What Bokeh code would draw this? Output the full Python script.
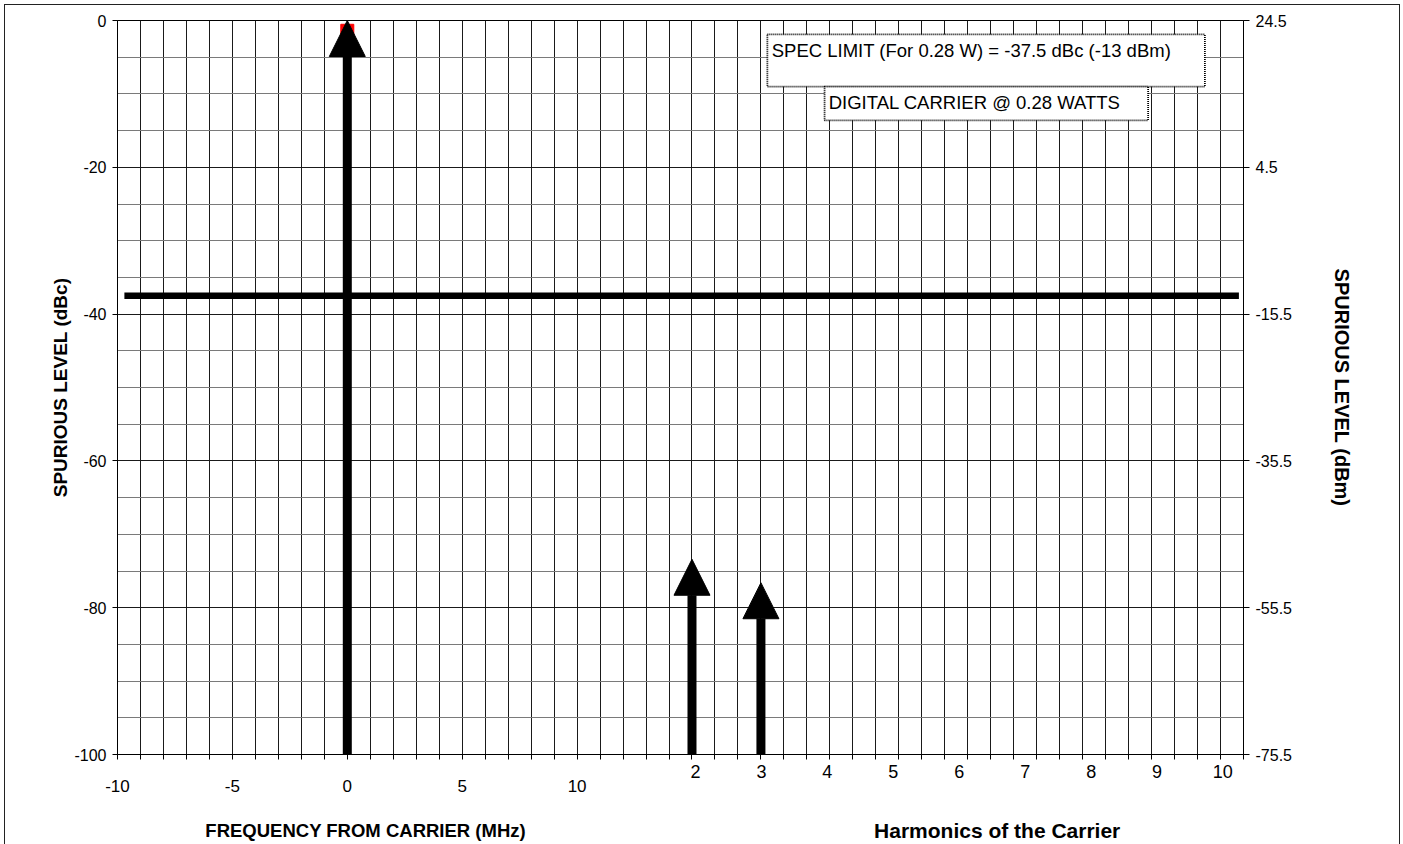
from bokeh.plotting import figure
from bokeh.models import (Range1d, LinearAxis, FixedTicker, Arrow, NormalHead,
                          Label, BoxAnnotation, ColumnDataSource,
                          CustomJSTickFormatter, InlineStyleSheet)
from bokeh.embed import file_html
from bokeh.resources import INLINE

# ---------------- data ----------------
freq_range = (-10, 39)                 # MHz from carrier (x axis extent)
dbc_range = (-100, 0)                  # left axis, dBc
dbm_range = (-75.5, 24.5)              # right axis, dBm
freq_tick_values = [-10, -5, 0, 5, 10]
freq_grid_values = list(range(-10, 40))
dbc_tick_values = [-100, -80, -60, -40, -20, 0]
dbc_grid_values = list(range(-100, 1, 5))
dbm_tick_values = [-75.5, -55.5, -35.5, -15.5, 4.5, 24.5]

harmonic_labels = ["2", "3", "4", "5", "6", "7", "8", "9", "10"]
harmonic_label_x = [15.15, 18.02, 20.89, 23.76, 26.63, 29.5, 32.37, 35.24, 38.1]

carrier_x = [0]
carrier_dbc = [0]
harmonic_x = [15, 18]
harmonic_dbc = [-73.4, -76.6]
marker_x = [0]
marker_dbc = [-1.4]
spec_limit_dbc = -37.5
spec_line_x = [-9.7, 38.8]

SANS = "Liberation Sans"

# ---------------- figure ----------------
W, H = 1403, 844
border_css = InlineStyleSheet(css="""
:host { position: relative; }
:host::after {
  content: ""; position: absolute; left: 4px; top: 4px; right: 3px; bottom: 0px;
  border: 1.3px solid #222; border-bottom: none; pointer-events: none; z-index: 1000;
}
""")
p = figure(width=W, height=H,
           x_range=Range1d(*freq_range), y_range=Range1d(*dbc_range),
           output_backend="svg", toolbar_location=None, x_axis_location=None,
           min_border_left=117, min_border_right=160,
           min_border_top=20, min_border_bottom=90)
p.stylesheets = [border_css]
p.outline_line_color = "black"
p.outline_line_width = 1
p.background_fill_color = "white"
p.border_fill_color = "white"

# grid
p.xgrid.ticker = FixedTicker(ticks=freq_grid_values)
p.xgrid.grid_line_color = "#1a1a1a"
p.xgrid.grid_line_width = 1
p.ygrid.ticker = FixedTicker(ticks=dbc_tick_values, minor_ticks=dbc_grid_values)
p.ygrid.grid_line_color = "#1a1a1a"
p.ygrid.minor_grid_line_color = "#7a7a7a"

# bottom axis 1 (nearest the frame): unit tick marks + harmonic numbers
harm_fmt = CustomJSTickFormatter(
    args=dict(pos=harmonic_label_x, labels=harmonic_labels),
    code="const i = pos.indexOf(tick); return i >= 0 ? labels[i] : '';")
hx_axis = LinearAxis(ticker=FixedTicker(ticks=harmonic_label_x, minor_ticks=freq_grid_values),
                     formatter=harm_fmt)
hx_axis.major_tick_out = 0
hx_axis.major_tick_in = 0
hx_axis.major_tick_line_color = None
hx_axis.minor_tick_out = 5
hx_axis.minor_tick_in = 0
hx_axis.minor_tick_line_color = "black"
hx_axis.axis_line_color = "black"
hx_axis.major_label_text_font = SANS
hx_axis.major_label_text_font_size = "18px"
hx_axis.major_label_text_color = "black"
hx_axis.major_label_standoff = 5
p.add_layout(hx_axis, "below")

# bottom axis 2: frequency-from-carrier labels, pulled up onto the row under the frame
fx_axis = LinearAxis(ticker=FixedTicker(ticks=freq_tick_values),
                     formatter=CustomJSTickFormatter(code="return String(tick);"))
fx_axis.axis_line_color = None
fx_axis.major_tick_line_color = None
fx_axis.minor_tick_line_color = None
fx_axis.major_tick_out = 0
fx_axis.major_tick_in = 0
fx_axis.minor_tick_out = 0
fx_axis.major_label_text_font = SANS
fx_axis.major_label_text_font_size = "17px"
fx_axis.major_label_text_color = "black"
fx_axis.major_label_standoff = -1
p.add_layout(fx_axis, "below")

# left axis
ya = p.yaxis[0]
ya.ticker = FixedTicker(ticks=dbc_tick_values)
ya.formatter = CustomJSTickFormatter(code="return String(tick);")
ya.major_tick_out = 5
ya.major_tick_in = 0
ya.minor_tick_out = 0
ya.axis_line_color = "black"
ya.major_tick_line_color = "black"
ya.major_label_text_font = SANS
ya.major_label_text_font_size = "16px"
ya.major_label_text_color = "black"
ya.major_label_standoff = 6
ya.axis_label = "SPURIOUS LEVEL (dBc)"
ya.axis_label_text_font = SANS
ya.axis_label_text_font_style = "bold"
ya.axis_label_text_font_size = "19px"
ya.axis_label_text_color = "black"
ya.axis_label_standoff = 0

# right axis (dBm)
p.extra_y_ranges = {"dbm": Range1d(*dbm_range)}
ra = LinearAxis(y_range_name="dbm", ticker=FixedTicker(ticks=dbm_tick_values),
                formatter=CustomJSTickFormatter(code="return String(tick);"),
                axis_label="SPURIOUS LEVEL (dBm)")
ra.major_tick_out = 6
ra.major_tick_in = 0
ra.minor_tick_out = 0
ra.axis_line_color = "black"
ra.major_tick_line_color = "black"
ra.major_label_text_font = SANS
ra.major_label_text_font_size = "16px"
ra.major_label_text_color = "black"
ra.major_label_standoff = 6
ra.axis_label_text_font = SANS
ra.axis_label_text_font_style = "bold"
ra.axis_label_text_font_size = "20px"
ra.axis_label_text_color = "black"
ra.axis_label_standoff = 36
p.add_layout(ra, "right")

# spec limit line
p.line(spec_line_x, [spec_limit_dbc] * len(spec_line_x),
       line_width=6.5, line_color="black")

# red carrier marker (behind arrow head)
p.scatter(marker_x, marker_dbc, marker="square", size=13,
          fill_color="#ff0000", line_color="#ff0000")

# arrows
xs = carrier_x + harmonic_x
ys = carrier_dbc + harmonic_dbc
arrow_src = ColumnDataSource(dict(x0=xs, y0=[dbc_range[0]] * len(xs), x1=xs, y1=ys))
p.add_layout(Arrow(source=arrow_src, x_start="x0", y_start="y0", x_end="x1", y_end="y1",
                   line_width=9, line_color="black",
                   end=NormalHead(size=36, fill_color="black", line_color="black",
                                  line_width=1)))

# annotation boxes
for (l, r, t, b) in [(18.28, 37.32, -1.9, -9.0), (20.77, 34.85, -9.0, -13.6)]:
    p.add_layout(BoxAnnotation(left=l, right=r, top=t, bottom=b,
                               fill_color="white", fill_alpha=1.0, line_color="black",
                               line_alpha=1.0, line_dash="1 1", line_width=1.8,
                               level="annotation"))
p.add_layout(Label(x=18.47, y=-4.05, text="SPEC LIMIT (For 0.28 W) = -37.5 dBc (-13 dBm)",
                   text_font=SANS, text_font_size="18.5px", text_color="black",
                   text_baseline="alphabetic", text_align="left"))
p.add_layout(Label(x=20.95, y=-11.15, text="DIGITAL CARRIER @ 0.28 WATTS",
                   text_font=SANS, text_font_size="18.5px", text_color="black",
                   text_baseline="alphabetic", text_align="left"))

# bottom titles (in the side panel so they are not clipped to the frame)
p.add_layout(Label(x=0.8, y=-110.35, text="FREQUENCY FROM CARRIER (MHz)",
                   text_font=SANS, text_font_style="bold", text_font_size="18.5px",
                   text_color="black", text_align="center", text_baseline="alphabetic"),
             "below")
p.add_layout(Label(x=28.28, y=-110.35, text="Harmonics of the Carrier",
                   text_font=SANS, text_font_style="bold", text_font_size="21px",
                   text_color="black", text_align="center", text_baseline="alphabetic"),
             "below")

open("out.html", "w").write(file_html(p, INLINE))
